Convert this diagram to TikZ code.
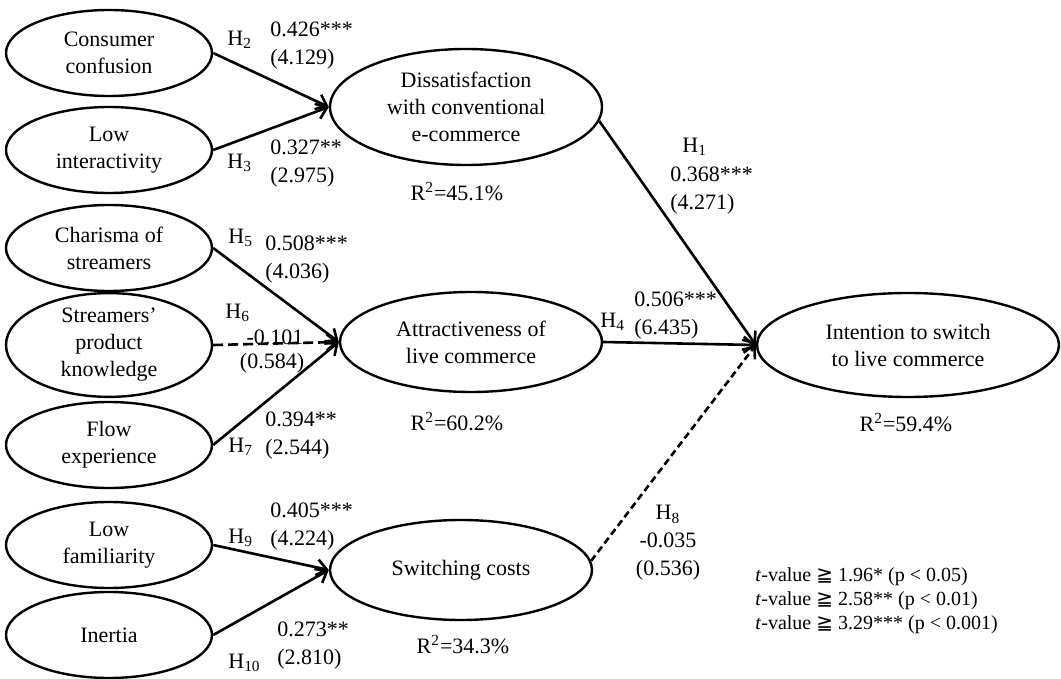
\documentclass[tikz,border=0pt]{standalone}
\usepackage{fontspec}
\setmainfont{Liberation Serif}
\newfontfamily\symfont{DejaVu Sans}
\usetikzlibrary{shapes.geometric,arrows.meta}

\begin{document}
\begin{tikzpicture}[
    x=0.5pt, y=-0.5pt,
    latent/.style={draw, ellipse, line width=1.2pt, inner sep=0pt, minimum width=103pt, minimum height=43pt, align=center, font=\fontsize{11}{13.5}\selectfont},
    effect/.style={-{Straight Barb[length=5pt,width=8pt]}, line width=1.3pt},
    nseffect/.style={effect, dash pattern=on 5pt off 2.5pt},
    lbl/.style={inner sep=0pt, align=left, font=\fontsize{11}{14}\selectfont}
]
    \useasboundingbox (0,0) rectangle (1061,679);
    % exogenous constructs
    \node[latent] (conf) at (109,53) {Consumer\\confusion};
    \node[latent] (inter) at (109,150) {Low\\interactivity};
    \node[latent] (char) at (109,248) {Charisma of\\streamers};
    \node[latent] (know) at (109,345) {Streamers'\\product\\knowledge};
    \node[latent] (flow) at (109,445) {Flow\\experience};
    \node[latent] (fam) at (109,545) {Low\\familiarity};
    \node[latent] (inert) at (109,635) {Inertia};
    % mediators
    \node[latent, minimum width=136pt, minimum height=58pt] (diss) at (466,107) {Dissatisfaction\\with conventional\\e-commerce};
    \node[latent, minimum width=131pt, minimum height=50pt] (attr) at (471,342) {Attractiveness of\\live commerce};
    \node[latent, minimum width=131pt, minimum height=50pt] (sw) at (461,570) {Switching costs};
    % outcome
    \node[latent, minimum width=151pt, minimum height=52pt] (int) at (908,345) {Intention to switch\\to live commerce};
    % R squared
    \node[lbl] (r1) at (457,192) {R\textsuperscript{2}=45.1\%};
    \node[lbl] (r2) at (457,422) {R\textsuperscript{2}=60.2\%};
    \node[lbl] (r3) at (463,645) {R\textsuperscript{2}=34.3\%};
    \node[lbl] (r4) at (906,423) {R\textsuperscript{2}=59.4\%};
    % paths
    \draw[effect] (conf.east) -- (diss.west);
    \draw[effect] (inter.east) -- (diss.west);
    \draw[effect] (char.east) -- (attr.west);
    \draw[nseffect] (know.east) -- (attr.west);
    \draw[effect] (flow.east) -- (attr.west);
    \draw[effect] (fam.east) -- (sw.west);
    \draw[effect] (inert.east) -- (sw.west);
    \draw[effect] (diss.-6) -- (int.west);
    \draw[effect] (attr.east) -- (int.west);
    \draw[effect, dash pattern=on 3.5pt off 2pt] (sw.4) -- (int.west);
    % coefficients
    \node[lbl, anchor=west] (h2) at (227,40) {H\textsubscript{2}};
    \node[lbl, anchor=west] (b2) at (270,46) {0.426***\\(4.129)};
    \node[lbl, anchor=west] (h3) at (227,163) {H\textsubscript{3}};
    \node[lbl, anchor=west] (b3) at (270,164) {0.327**\\(2.975)};
    \node[lbl, anchor=west] (h5) at (228,238) {H\textsubscript{5}};
    \node[lbl, anchor=west] (b5) at (265,260) {0.508***\\(4.036)};
    \node[lbl, anchor=west] (h6) at (225,313) {H\textsubscript{6}};
    \node[lbl] (c6) at (275,337) {-0.101};
    \node[lbl] (t6) at (272,363) {(0.584)};
    \node[lbl, anchor=west] (h7) at (228,447) {H\textsubscript{7}};
    \node[lbl, anchor=west] (b7) at (265,436) {0.394**\\(2.544)};
    \node[lbl, anchor=west] (h9) at (228,538) {H\textsubscript{9}};
    \node[lbl, anchor=west] (b9) at (270,527) {0.405***\\(4.224)};
    \node[lbl, anchor=west] (h10) at (228,663) {H\textsubscript{10}};
    \node[lbl, anchor=west] (b10) at (277,646) {0.273**\\(2.810)};
    \node[lbl, anchor=west] (h1) at (682,147) {H\textsubscript{1}};
    \node[lbl, anchor=west] (b1) at (670,191) {0.368***\\(4.271)};
    \node[lbl, anchor=west] (h4) at (600,322) {H\textsubscript{4}};
    \node[lbl, anchor=west] (b4) at (634,316) {0.506***\\(6.435)};
    \node[lbl, align=center] (b8) at (668,543) {H\textsubscript{8}\\-0.035\\(0.536)};
    % legend
    \node[lbl, anchor=west, font=\fontsize{10}{12}\selectfont] (legend) at (755,601) {%
        \textit{t}-value {\symfont ≧} 1.96* (p < 0.05)\\
        \textit{t}-value {\symfont ≧} 2.58** (p < 0.01)\\
        \textit{t}-value {\symfont ≧} 3.29*** (p < 0.001)};
\end{tikzpicture}
\end{document}
